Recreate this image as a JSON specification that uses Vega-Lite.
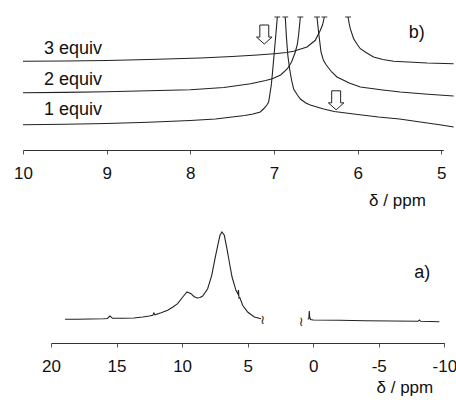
{
  "$schema": "https://vega.github.io/schema/vega-lite/v6.json",
  "padding": {"left": 13, "top": 14, "right": 0, "bottom": 0},
  "background": "white",
  "config": {
    "view": {"stroke": null},
    "font": "Liberation Sans",
    "axis": {
      "labelFont": "Liberation Sans", "labelFontSize": 17, "labelColor": "#111",
      "tickSize": 4, "tickColor": "#555", "domainColor": "#333", "labelPadding": 11.5,
      "grid": false, "labelFlush": false,
      "titleFont": "Liberation Sans", "titleFontSize": 17, "titleFontWeight": "normal", "titleColor": "#111",
      "titleAlign": "right"
    }
  },
  "spacing": 14,
  "vconcat": [
    {
      "width": 420.4,
      "height": 133,
      "layer": [
        {
          "data": {"values": [
            {"seg": "1L", "ppm": 10, "i": 25.3}, {"seg": "1L", "ppm": 9.5, "i": 25.8}, {"seg": "1L", "ppm": 9.0, "i": 26.5}, {"seg": "1L", "ppm": 8.5, "i": 27.8}, {"seg": "1L", "ppm": 8.0, "i": 29.5}, {"seg": "1L", "ppm": 7.7, "i": 31}, {"seg": "1L", "ppm": 7.5, "i": 33}, {"seg": "1L", "ppm": 7.35, "i": 34.5}, {"seg": "1L", "ppm": 7.25, "i": 36}, {"seg": "1L", "ppm": 7.164, "i": 38}, {"seg": "1L", "ppm": 7.12, "i": 41.5}, {"seg": "1L", "ppm": 7.085, "i": 45}, {"seg": "1L", "ppm": 7.064, "i": 48}, {"seg": "1L", "ppm": 7.032, "i": 65}, {"seg": "1L", "ppm": 7.015, "i": 80}, {"seg": "1L", "ppm": 6.996, "i": 98}, {"seg": "1L", "ppm": 6.975, "i": 118}, {"seg": "1L", "ppm": 6.96, "i": 133},
            {"seg": "1R", "ppm": 6.865, "i": 133}, {"seg": "1R", "ppm": 6.853, "i": 115}, {"seg": "1R", "ppm": 6.835, "i": 95}, {"seg": "1R", "ppm": 6.813, "i": 81}, {"seg": "1R", "ppm": 6.79, "i": 70}, {"seg": "1R", "ppm": 6.765, "i": 61}, {"seg": "1R", "ppm": 6.72, "i": 55}, {"seg": "1R", "ppm": 6.685, "i": 51}, {"seg": "1R", "ppm": 6.62, "i": 47}, {"seg": "1R", "ppm": 6.566, "i": 45}, {"seg": "1R", "ppm": 6.407, "i": 41}, {"seg": "1R", "ppm": 6.28, "i": 38.5}, {"seg": "1R", "ppm": 6.0, "i": 35.5}, {"seg": "1R", "ppm": 5.75, "i": 33}, {"seg": "1R", "ppm": 5.5, "i": 31}, {"seg": "1R", "ppm": 5.25, "i": 28}, {"seg": "1R", "ppm": 5.0, "i": 25}, {"seg": "1R", "ppm": 4.853, "i": 23},
            {"seg": "2L", "ppm": 10, "i": 57.3}, {"seg": "2L", "ppm": 9.5, "i": 57.6}, {"seg": "2L", "ppm": 9.0, "i": 58.2}, {"seg": "2L", "ppm": 8.5, "i": 59.3}, {"seg": "2L", "ppm": 8.0, "i": 60.3}, {"seg": "2L", "ppm": 7.6, "i": 62.5}, {"seg": "2L", "ppm": 7.28, "i": 66.3}, {"seg": "2L", "ppm": 7.1, "i": 69.5}, {"seg": "2L", "ppm": 7.02, "i": 71.3}, {"seg": "2L", "ppm": 6.92, "i": 75}, {"seg": "2L", "ppm": 6.84, "i": 81.3}, {"seg": "2L", "ppm": 6.79, "i": 88}, {"seg": "2L", "ppm": 6.745, "i": 98}, {"seg": "2L", "ppm": 6.72, "i": 106}, {"seg": "2L", "ppm": 6.706, "i": 115}, {"seg": "2L", "ppm": 6.695, "i": 124}, {"seg": "2L", "ppm": 6.685, "i": 133},
            {"seg": "2R", "ppm": 6.486, "i": 133}, {"seg": "2R", "ppm": 6.467, "i": 118}, {"seg": "2R", "ppm": 6.438, "i": 98}, {"seg": "2R", "ppm": 6.41, "i": 90}, {"seg": "2R", "ppm": 6.375, "i": 85}, {"seg": "2R", "ppm": 6.31, "i": 78}, {"seg": "2R", "ppm": 6.247, "i": 73}, {"seg": "2R", "ppm": 6.1, "i": 67}, {"seg": "2R", "ppm": 5.968, "i": 63}, {"seg": "2R", "ppm": 5.7, "i": 60}, {"seg": "2R", "ppm": 5.49, "i": 58}, {"seg": "2R", "ppm": 5.2, "i": 56}, {"seg": "2R", "ppm": 4.853, "i": 54},
            {"seg": "3L", "ppm": 10, "i": 88.7}, {"seg": "3L", "ppm": 9.5, "i": 89}, {"seg": "3L", "ppm": 9.0, "i": 89.5}, {"seg": "3L", "ppm": 8.5, "i": 90.5}, {"seg": "3L", "ppm": 7.88, "i": 92}, {"seg": "3L", "ppm": 7.5, "i": 93.5}, {"seg": "3L", "ppm": 7.2, "i": 95}, {"seg": "3L", "ppm": 7.0, "i": 96.3}, {"seg": "3L", "ppm": 6.85, "i": 97.5}, {"seg": "3L", "ppm": 6.765, "i": 98.7}, {"seg": "3L", "ppm": 6.605, "i": 103}, {"seg": "3L", "ppm": 6.506, "i": 109.7}, {"seg": "3L", "ppm": 6.446, "i": 119.7}, {"seg": "3L", "ppm": 6.42, "i": 125}, {"seg": "3L", "ppm": 6.398, "i": 133},
            {"seg": "3R", "ppm": 6.115, "i": 133}, {"seg": "3R", "ppm": 6.1, "i": 126}, {"seg": "3R", "ppm": 6.088, "i": 121.3}, {"seg": "3R", "ppm": 6.048, "i": 111.3}, {"seg": "3R", "ppm": 6.0, "i": 105}, {"seg": "3R", "ppm": 5.968, "i": 101.3}, {"seg": "3R", "ppm": 5.9, "i": 97.5}, {"seg": "3R", "ppm": 5.81, "i": 93}, {"seg": "3R", "ppm": 5.7, "i": 90.5}, {"seg": "3R", "ppm": 5.57, "i": 88.7}, {"seg": "3R", "ppm": 5.17, "i": 87}, {"seg": "3R", "ppm": 4.853, "i": 86.3}
          ]},
          "mark": {"type": "line", "color": "#222", "strokeWidth": 1.1},
          "encoding": {
            "x": {"field": "ppm", "type": "quantitative",
                  "scale": {"domain": [4.975, 10], "reverse": true, "nice": false, "zero": false},
                  "axis": {"values": [10, 9, 8, 7, 6, 5], "title": "δ / ppm", "titleX": 402.3, "titlePadding": 11, "labelExpr": "'' + datum.value"}},
            "y": {"field": "i", "type": "quantitative", "scale": {"domain": [0, 133], "nice": false, "zero": false}, "axis": null},
            "detail": {"field": "seg"}
          }
        },
        {
          "data": {"values": [
            {"a": 6.995, "b": 6.925}, {"a": 6.9, "b": 6.83}, {"a": 6.72, "b": 6.65}, {"a": 6.521, "b": 6.451}, {"a": 6.433, "b": 6.363}, {"a": 6.15, "b": 6.08}
          ]},
          "mark": {"type": "rule", "color": "#333", "strokeWidth": 1},
          "encoding": {
            "x": {"field": "a", "type": "quantitative"},
            "x2": {"field": "b"},
            "y": {"datum": 133, "type": "quantitative"}
          }
        },
        {
          "data": {"values": [
            {"ppm": 9.056, "i": 96.3, "label": "3 equiv"},
            {"ppm": 9.056, "i": 64.7, "label": "2 equiv"},
            {"ppm": 9.056, "i": 34.7, "label": "1 equiv"}
          ]},
          "mark": {"type": "text", "align": "right", "baseline": "alphabetic", "fontSize": 18, "font": "Liberation Sans", "color": "#111"},
          "encoding": {
            "x": {"field": "ppm", "type": "quantitative"},
            "y": {"field": "i", "type": "quantitative"},
            "text": {"field": "label"}
          }
        },
        {
          "data": {"values": [{"ppm": 5.39, "i": 112, "label": "b)"}]},
          "mark": {"type": "text", "align": "left", "baseline": "alphabetic", "fontSize": 18, "font": "Liberation Sans", "color": "#111"},
          "encoding": {
            "x": {"field": "ppm", "type": "quantitative"},
            "y": {"field": "i", "type": "quantitative"},
            "text": {"field": "label"}
          }
        },
        {
          "data": {"values": [{"ppm": 7.116, "i": 115.5}, {"ppm": 6.257, "i": 49.7}]},
          "mark": {"type": "point", "shape": "M-0.47,-1L0.47,-1L0.47,0.27L0.82,0.27L0,1L-0.82,0.27L-0.47,0.27Z", "size": 361, "filled": false, "fill": "white", "fillOpacity": 1, "stroke": "#222", "strokeWidth": 1, "opacity": 1},
          "encoding": {
            "x": {"field": "ppm", "type": "quantitative"},
            "y": {"field": "i", "type": "quantitative"}
          }
        }
      ]
    },
    {
      "hconcat": [
        {
          "width": 27.3,
          "height": 120,
          "data": {"values": []},
          "mark": "point"
        },
        {
          "width": 393.3,
          "height": 120,
          "layer": [
            {
              "data": {"values": [
                {"seg": "A", "ppm": 18.93, "i": 23.7}, {"seg": "A", "ppm": 18.0, "i": 23.8}, {"seg": "A", "ppm": 17.0, "i": 24}, {"seg": "A", "ppm": 16.0, "i": 24.3}, {"seg": "A", "ppm": 15.7, "i": 24.5}, {"seg": "A", "ppm": 15.5, "i": 27}, {"seg": "A", "ppm": 15.3, "i": 24.7}, {"seg": "A", "ppm": 14.5, "i": 24.8}, {"seg": "A", "ppm": 13.67, "i": 25}, {"seg": "A", "ppm": 13.0, "i": 26}, {"seg": "A", "ppm": 12.5, "i": 27}, {"seg": "A", "ppm": 12.24, "i": 27.7}, {"seg": "A", "ppm": 12.15, "i": 30}, {"seg": "A", "ppm": 12.08, "i": 28.2}, {"seg": "A", "ppm": 11.6, "i": 30.2}, {"seg": "A", "ppm": 11.1, "i": 32.7}, {"seg": "A", "ppm": 10.7, "i": 36}, {"seg": "A", "ppm": 10.34, "i": 39.3}, {"seg": "A", "ppm": 9.95, "i": 46}, {"seg": "A", "ppm": 9.63, "i": 51}, {"seg": "A", "ppm": 9.32, "i": 49.3}, {"seg": "A", "ppm": 9.1, "i": 46.5}, {"seg": "A", "ppm": 8.86, "i": 45}, {"seg": "A", "ppm": 8.63, "i": 45.5}, {"seg": "A", "ppm": 8.43, "i": 47}, {"seg": "A", "ppm": 8.05, "i": 54.3}, {"seg": "A", "ppm": 7.74, "i": 67.7}, {"seg": "A", "ppm": 7.49, "i": 84.3}, {"seg": "A", "ppm": 7.28, "i": 97.7}, {"seg": "A", "ppm": 7.11, "i": 107.7}, {"seg": "A", "ppm": 6.96, "i": 111}, {"seg": "A", "ppm": 6.78, "i": 107.7}, {"seg": "A", "ppm": 6.58, "i": 94.3}, {"seg": "A", "ppm": 6.4, "i": 81}, {"seg": "A", "ppm": 6.19, "i": 66}, {"seg": "A", "ppm": 5.89, "i": 52.7}, {"seg": "A", "ppm": 5.74, "i": 49}, {"seg": "A", "ppm": 5.7, "i": 53}, {"seg": "A", "ppm": 5.66, "i": 45}, {"seg": "A", "ppm": 5.6, "i": 45.5}, {"seg": "A", "ppm": 5.38, "i": 37.7}, {"seg": "A", "ppm": 5.0, "i": 31}, {"seg": "A", "ppm": 4.49, "i": 26}, {"seg": "A", "ppm": 3.98, "i": 24.3},
                {"seg": "B", "ppm": 0.42, "i": 24}, {"seg": "B", "ppm": 0.33, "i": 24.2}, {"seg": "B", "ppm": 0.3, "i": 32}, {"seg": "B", "ppm": 0.27, "i": 26}, {"seg": "B", "ppm": 0.2, "i": 23.5}, {"seg": "B", "ppm": 0.0, "i": 23}, {"seg": "B", "ppm": -2, "i": 22.7}, {"seg": "B", "ppm": -4, "i": 22.3}, {"seg": "B", "ppm": -6, "i": 22}, {"seg": "B", "ppm": -8.0, "i": 21.7}, {"seg": "B", "ppm": -8.1, "i": 23}, {"seg": "B", "ppm": -8.2, "i": 21.7}, {"seg": "B", "ppm": -9.62, "i": 21.3}
              ]},
              "mark": {"type": "line", "color": "#222", "strokeWidth": 1.1},
              "encoding": {
                "x": {"field": "ppm", "type": "quantitative",
                      "scale": {"domain": [-10, 20], "reverse": true, "nice": false, "zero": false},
                      "axis": {"values": [20, 15, 10, 5, 0, -5, -10], "title": "δ / ppm", "titleX": 381.7, "titlePadding": 5, "labelExpr": "'' + datum.value"}},
                "y": {"field": "i", "type": "quantitative", "scale": {"domain": [0, 120], "nice": false, "zero": false}, "axis": null},
                "detail": {"field": "seg"}
              }
            },
            {
              "data": {"values": [{"ppm": 3.87, "i": 23, "label": "≀"}, {"ppm": 0.93, "i": 21, "label": "≀"}]},
              "mark": {"type": "text", "align": "center", "baseline": "middle", "fontSize": 13, "font": "DejaVu Sans", "color": "#222"},
              "encoding": {
                "x": {"field": "ppm", "type": "quantitative"},
                "y": {"field": "i", "type": "quantitative"},
                "text": {"field": "label"}
              }
            },
            {
              "data": {"values": [{"ppm": -7.71, "i": 65, "label": "a)"}]},
              "mark": {"type": "text", "align": "left", "baseline": "alphabetic", "fontSize": 18, "font": "Liberation Sans", "color": "#111"},
              "encoding": {
                "x": {"field": "ppm", "type": "quantitative"},
                "y": {"field": "i", "type": "quantitative"},
                "text": {"field": "label"}
              }
            }
          ]
        }
      ],
      "spacing": 0,
      "bounds": "flush"
    }
  ]
}
